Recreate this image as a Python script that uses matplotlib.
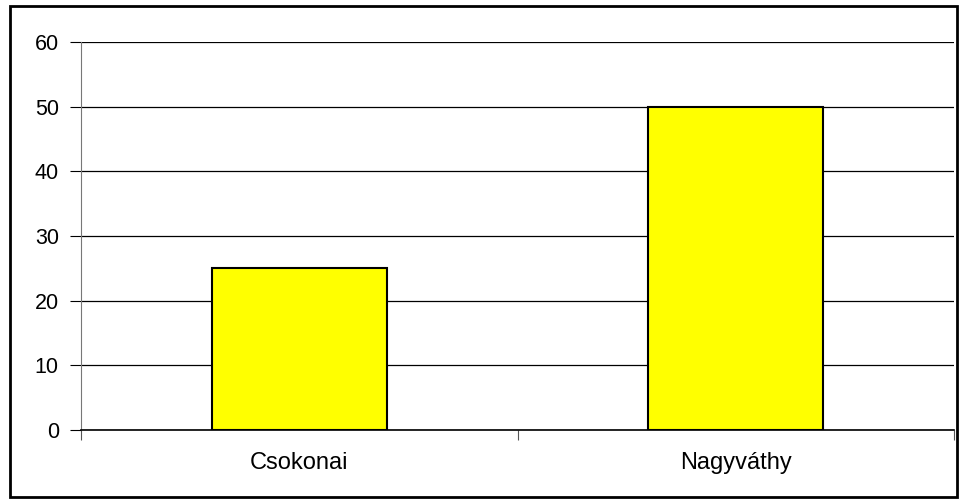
import matplotlib

matplotlib.use("Agg")
import matplotlib.pyplot as plt
from matplotlib.patches import Rectangle

categories = ["Csokonai", "Nagyváthy"]
values = [25, 50]
yticks = [0, 10, 20, 30, 40, 50, 60]

plt.rcParams["font.family"] = ["Liberation Sans", "DejaVu Sans"]

W, H = 960, 499
fig = plt.figure(figsize=(W / 100, H / 100), dpi=100)
ax = fig.add_axes([81 / W, 1 - 430 / H, (954 - 81) / W, (430 - 42) / H])

ax.bar(range(len(categories)), values, width=0.4, color="#FFFF00",
       edgecolor="black", linewidth=1.5, zorder=3)

ax.set_xlim(-0.5, len(categories) - 0.5)
ax.set_ylim(0, 60)
ax.set_yticks(yticks)
ax.yaxis.grid(True, color="black", linewidth=0.9, zorder=0)
ax.set_axisbelow(True)

ax.set_xticks([-0.5, 0.5, 1.5])
ax.set_xticklabels([])
ax.set_xticks(range(len(categories)), minor=True)
ax.set_xticklabels(categories, minor=True, fontsize=17)
ax.tick_params(axis="x", which="minor", length=0, pad=16)
ax.tick_params(axis="x", which="major", length=7, color="#555555", direction="out")
ax.tick_params(axis="y", length=8, color="black", labelsize=15.5, pad=8)

for side in ("top", "right"):
    ax.spines[side].set_visible(False)
ax.spines["left"].set_color("#777777")
ax.spines["bottom"].set_color("black")
ax.spines["bottom"].set_linewidth(1.2)

fig.patches.append(Rectangle((9.5 / W, 1 - 497 / H), (957 - 9.5) / W, (497 - 6) / H,
                             transform=fig.transFigure, fill=False,
                             edgecolor="black", linewidth=2))

fig.savefig("out.png", dpi=100)
